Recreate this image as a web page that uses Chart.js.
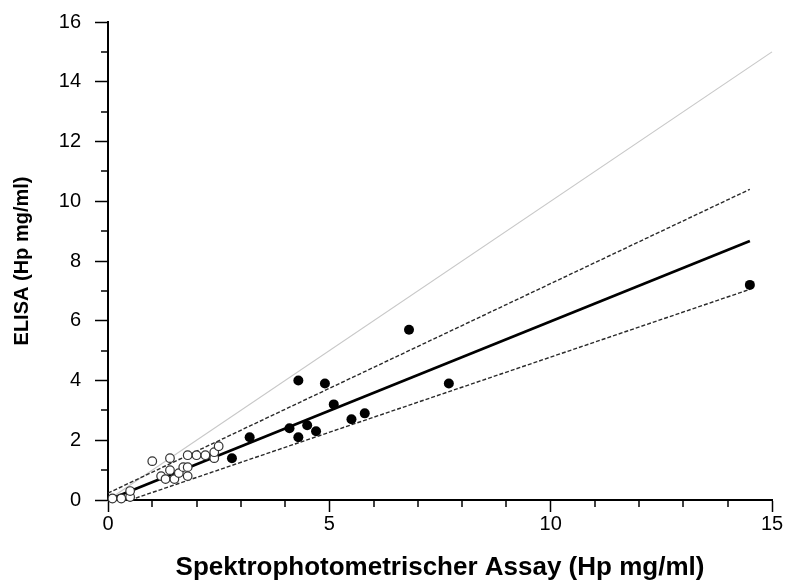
<!DOCTYPE html>
<html>
<head>
<meta charset="utf-8">
<script src="https://cdn.jsdelivr.net/npm/chart.js@4/dist/chart.umd.min.js"></script>
<style>
html,body{margin:0;padding:0;background:#fff;}
#wrap{width:785px;height:581px;}
</style>
</head>
<body>
<div id="wrap"><canvas id="c" width="785" height="581"></canvas></div>
<script>
// Data
const openX = [0.1, 0.3, 0.5, 0.5, 1.0, 1.2, 1.3, 1.4, 1.4, 1.5, 1.6, 1.7, 1.8, 1.8, 1.8, 2.0, 2.2, 2.4, 2.4, 2.5];
const openY = [0.05, 0.05, 0.1, 0.3, 1.3, 0.8, 0.7, 1.0, 1.4, 0.7, 0.9, 1.1, 1.1, 0.8, 1.5, 1.5, 1.5, 1.4, 1.6, 1.8];
const filledX = [2.8, 3.2, 4.1, 4.3, 4.3, 4.5, 4.7, 4.9, 5.1, 5.5, 5.8, 6.8, 7.7, 14.5];
const filledY = [1.4, 2.1, 2.4, 2.1, 4.0, 2.5, 2.3, 3.9, 3.2, 2.7, 2.9, 5.7, 3.9, 7.2];
const identityX = [0, 15];
const identityY = [0, 15];
const regressionX = [0.1, 14.5];
const regressionY = [0.06, 8.67];
const upperX = [0, 14.5];
const upperY = [0.23, 10.4];
const lowerX = [0.5, 14.5];
const lowerY = [0.0, 7.05];
const xTickLabels = [0, 5, 10, 15];
const yTickLabels = [0, 2, 4, 6, 8, 10, 12, 14, 16];

const pts = (xs, ys) => xs.map((x, i) => ({x: x, y: ys[i]}));

const minorTicks = {
  id: 'minorTicks',
  afterDraw(chart) {
    const ctx = chart.ctx;
    const xs = chart.scales.x, ys = chart.scales.y;
    ctx.save();
    ctx.strokeStyle = '#000';
    ctx.lineWidth = 1.5;
    for (let v = 0; v <= 15; v++) {
      if (xTickLabels.includes(v)) continue;
      const px = Math.round(xs.getPixelForValue(v));
      ctx.beginPath();
      ctx.moveTo(px, xs.top);
      ctx.lineTo(px, xs.top + 7);
      ctx.stroke();
    }
    for (let v = 0; v <= 16; v++) {
      if (yTickLabels.includes(v)) continue;
      const py = Math.round(ys.getPixelForValue(v));
      ctx.beginPath();
      ctx.moveTo(ys.right, py);
      ctx.lineTo(ys.right - 7, py);
      ctx.stroke();
    }
    ctx.restore();
  }
};

const font = "'Liberation Sans', Arial, sans-serif";

new Chart(document.getElementById('c'), {
  type: 'scatter',
  data: {
    datasets: [
      {data: pts(identityX, identityY), showLine: true, borderColor: '#c8c8c8', borderWidth: 1.2, pointRadius: 0, order: 5},
      {data: pts(upperX, upperY), showLine: true, borderColor: '#2a2a2a', borderWidth: 1.4, borderDash: [4, 2], pointRadius: 0, order: 4},
      {data: pts(lowerX, lowerY), showLine: true, borderColor: '#2a2a2a', borderWidth: 1.4, borderDash: [4, 2], pointRadius: 0, order: 4},
      {data: pts(regressionX, regressionY), showLine: true, borderColor: '#000', borderWidth: 2.8, pointRadius: 0, order: 3},
      {data: pts(openX, openY), pointRadius: 4.3, pointBackgroundColor: '#fff', pointBorderColor: '#333', pointBorderWidth: 1.2, order: 2},
      {data: pts(filledX, filledY), pointRadius: 5, pointBackgroundColor: '#000', pointBorderColor: '#000', pointBorderWidth: 0, order: 1}
    ]
  },
  options: {
    responsive: false,
    animation: false,
    clip: false,
    layout: {padding: {left: 0, right: 13, top: 22, bottom: 0}},
    plugins: {legend: {display: false}, tooltip: {enabled: false}},
    scales: {
      x: {
        type: 'linear', min: 0, max: 15,
        afterFit: s => { s.height = 81; s.paddingLeft = 0; s.paddingRight = 0; },
        border: {display: true, color: '#000', width: 2},
        grid: {display: true, drawOnChartArea: false, drawTicks: true, tickLength: 12, tickColor: '#000', tickWidth: 1.5},
        ticks: {stepSize: 5, autoSkip: false, color: '#000', padding: 0, font: {family: font, size: 20}, maxRotation: 0},
        title: {display: true, text: 'Spektrophotometrischer Assay (Hp mg/ml)', color: '#000', font: {family: font, size: 26, weight: 'bold', lineHeight: 1}, padding: {top: 0, bottom: 0}}
      },
      y: {
        type: 'linear', min: 0, max: 16,
        afterFit: s => { s.width = 108; s.paddingTop = 0; s.paddingBottom = 0; },
        border: {display: true, color: '#000', width: 2},
        grid: {display: true, drawOnChartArea: false, drawTicks: true, tickLength: 13, tickColor: '#000', tickWidth: 1.5},
        ticks: {stepSize: 2, autoSkip: false, color: '#000', padding: 14, font: {family: font, size: 20}},
        title: {display: true, text: 'ELISA (Hp mg/ml)', color: '#000', font: {family: font, size: 20, weight: 'bold'}, padding: {top: 10, bottom: 0}}
      }
    }
  },
  plugins: [minorTicks]
});
</script>
</body>
</html>
